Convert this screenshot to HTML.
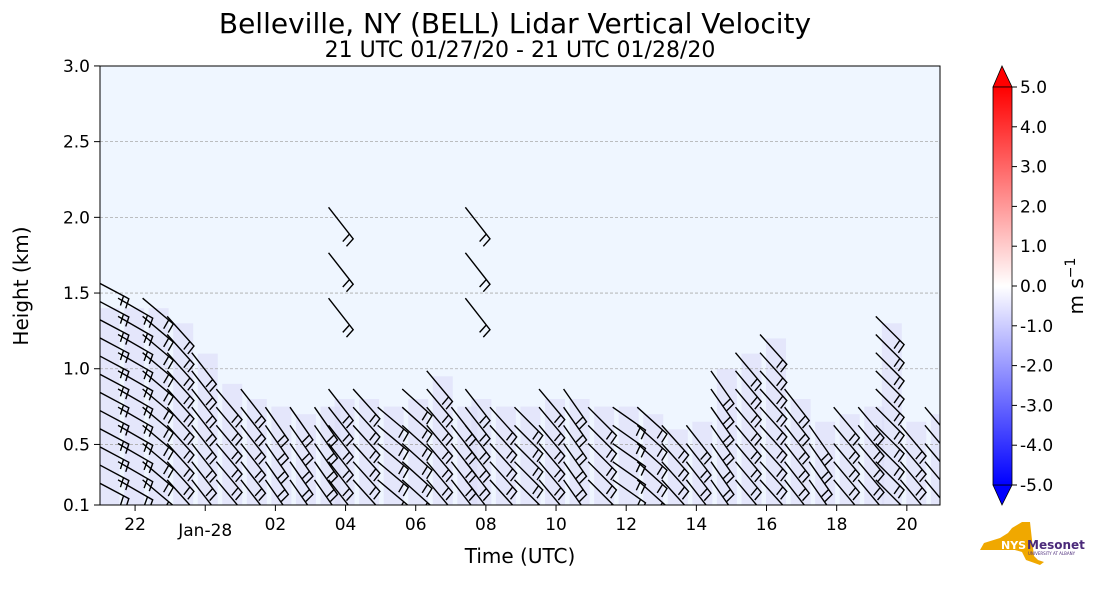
<!DOCTYPE html>
<html><head><meta charset="utf-8"><style>
body{margin:0;background:#fff;font-family:"Liberation Sans","DejaVu Sans",sans-serif}
svg text{font-family:"DejaVu Sans","Liberation Sans",sans-serif}
</style></head><body>
<svg id="c" width="1101" height="600" xmlns="http://www.w3.org/2000/svg">
<defs><linearGradient id="g" x1="0" y1="1" x2="0" y2="0">
<stop offset="0" stop-color="#0000ff"/><stop offset="0.5" stop-color="#ffffff"/><stop offset="1" stop-color="#ff0000"/></linearGradient>
<clipPath id="pc"><rect x="100" y="66" width="840" height="439"/></clipPath></defs>
<text x="515" y="33" font-size="28" text-anchor="middle">Belleville, NY (BELL) Lidar Vertical Velocity</text>
<text x="520" y="57" font-size="22" text-anchor="middle">21 UTC 01/27/20 - 21 UTC 01/28/20</text>
<rect x="100" y="66" width="840" height="439" fill="#eff6ff"/>
<g id="fills" clip-path="url(#pc)"></g><g id="grid"></g><g id="barbs" clip-path="url(#pc)"></g>
<rect x="100" y="66" width="840" height="439" fill="none" stroke="#000" stroke-width="1"/>
<g id="axes"></g>
<text x="520" y="563" font-size="20" text-anchor="middle">Time (UTC)</text>
<text transform="translate(28,286) rotate(-90)" font-size="20" text-anchor="middle">Height (km)</text>
<g>
<polygon points="993,87 1002,66 1012,87" fill="#ff0000" stroke="#000" stroke-width="0.8"/>
<polygon points="993,485 1002,505 1012,485" fill="#0000ff" stroke="#000" stroke-width="0.8"/>
<rect x="993" y="87" width="19" height="398" fill="url(#g)" stroke="#000" stroke-width="0.8"/>
</g>
<g id="cbt"></g>
<text transform="translate(1083,286) rotate(-90)" font-size="20" text-anchor="middle">m s<tspan dy="-8" font-size="14">−1</tspan></text>
<g>
<polygon points="1000,538 1008,533 1012,528 1022,522 1030,522 1032,540 1034,556 1038,560 1044,562 1040,565 1026,560 1022,552 1015,550 980,550 984,543" fill="#f0a800"/>
<text x="1001" y="549" font-size="11" font-weight="bold" fill="#fff">NYS</text>
<text x="1027" y="549" font-size="12" font-weight="bold" fill="#4b2a7a">Mesonet</text>
<text x="1028" y="555" font-size="4" fill="#4b2a7a">UNIVERSITY AT ALBANY</text>
</g>
</svg>
<script>
const NS="http://www.w3.org/2000/svg";
const yTicks=[0.1,0.5,1.0,1.5,2.0,2.5,3.0];
const xTickHours=[1,3,5,7,9,11,13,15,17,19,21,23];
const xTickLabels=["22","Jan-28","02","04","06","08","10","12","14","16","18","20"];
const cbTicks=[5,4,3,2,1,0,-1,-2,-3,-4,-5];
const barbHours=[0.1,0.8,1.5,2.2,2.9,3.6,4.3,5.0,5.7,6.4,6.8,7.5,8.2,8.9,9.6,10.3,10.7,11.4,12.1,12.8,13.5,14.2,14.9,15.6,16.3,17.0,17.7,18.4,19.1,19.8,20.5,21.2,21.9,22.4,23.1,23.8];
const barbTops=[1.55,1.5,1.45,1.3,1.1,0.9,0.8,0.75,0.7,0.75,2.0,0.8,0.75,0.8,0.95,0.75,2.0,0.75,0.75,0.8,0.8,0.75,0.75,0.7,0.6,0.65,1.0,1.1,1.2,0.8,0.65,0.7,0.75,1.3,0.65,0.7];
const barbAngles=[28,30,40,48,52,50,52,55,55,55,52,48,40,42,50,52,52,48,45,50,55,45,35,42,48,52,55,50,48,52,55,50,50,45,50,50];
const x=h=>100+h*35.08, y=v=>505-(v-0.1)*151.4;
function el(t,a,p){const e=document.createElementNS(NS,t);for(const k in a)e.setAttribute(k,a[k]);document.getElementById(p).appendChild(e);return e;}
yTicks.forEach(v=>{
 if(v>0.1&&v<3){const g=el('line',{x1:100,x2:940,y1:y(v),y2:y(v),stroke:'#aaa','stroke-dasharray':'3,2','stroke-width':0.8},'grid');}
 el('line',{x1:94,x2:100,y1:y(v),y2:y(v),stroke:'#000'},'axes');
 const t=el('text',{x:90,y:y(v)+6,'font-size':17,'text-anchor':'end'},'axes');t.textContent=v.toFixed(1);
 
});
xTickHours.forEach((h,i)=>{
 el('line',{x1:x(h),x2:x(h),y1:505,y2:511,stroke:'#000'},'axes');
 const t=el('text',{x:x(h),y:i==1?536:530,'font-size':17,'text-anchor':'middle'},'axes');t.textContent=xTickLabels[i];
 
});
cbTicks.forEach(v=>{
 const yy=286-v*39.8;
 el('line',{x1:1012,x2:1017,y1:yy,y2:yy,stroke:'#000'},'cbt');
 const t=el('text',{x:1020,y:yy+6,'font-size':17},'cbt');t.textContent=v.toFixed(1);
 
});
barbHours.forEach((h,i)=>{
 const tall=barbTops[i]>=1.9;
 const top=tall?0.8:Math.min(barbTops[i],1.4);
 const f=el('rect',{x:x(h)-4,y:y(top),width:20,height:505-y(top),fill:'#dcdcf8',opacity:0.6},'fills');
 
 const a=barbAngles[i]*Math.PI/180, L=40, dx=Math.cos(a), dy=Math.sin(a);
 const ta=a+80*Math.PI/180, tx=Math.cos(ta)*10, ty=Math.sin(ta)*10;
 const vals=[];
 for(let v=0.2; v<=Math.min(barbTops[i],0.85)+0.001; v+=0.12) vals.push(v);
 if(tall){for(let v=barbTops[i]; v>1.15; v-=0.3) vals.push(v);}
 else {for(let v=vals[vals.length-1]+0.12; v<=barbTops[i]+0.001; v+=0.12) vals.push(v);}
 vals.forEach(v=>{
  const px=x(h)-10, py=y(v)-10;
  const ex=px+L*dx, ey=py+L*dy;
  const g=el('path',{d:`M${px},${py}L${ex},${ey}l${tx},${ty}M${ex-6*dx},${ey-6*dy}l${tx},${ty}`,stroke:'#000','stroke-width':1.4,fill:'none'},'barbs');
  
 });
});
</script>
</body></html>
